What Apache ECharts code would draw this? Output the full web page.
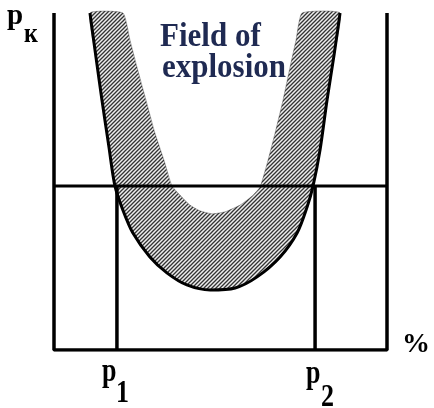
<!DOCTYPE html>
<html>
<head>
<meta charset="utf-8">
<script src="https://cdn.jsdelivr.net/npm/echarts@6/dist/echarts.min.js"></script>
<style>
html,body{margin:0;padding:0;background:#fff;}
#chart{width:434px;height:408px;}
</style>
</head>
<body>
<div id="chart"></div>
<script>
// Outer boundary of the explosion field (concentration %, pressure) — normalized 0..100
const outerCurve = [
  [10.8,100],[12.6,86.9],[14.4,74.2],[16.5,60.2],[18.3,48.7],[20.7,41.5],[23.7,34.7],
  [28.8,27.6],[33.9,22.9],[39.9,19.3],[46.9,17.8],[54.4,18.4],[61.0,21.7],[67.9,27.6],
  [73.0,34.7],[76.0,42.4],[77.8,48.7],[79.9,59.4],[82.0,74.2],[84.1,87.5],[85.9,100]
];
// Inner boundary of the hatched band
const innerCurve = [
  [20.7,100],[22.8,92.0],[24.9,84.0],[27.6,74.2],[30.3,64.4],[33.0,56.4],[35.4,48.7],
  [37.8,46.0],[40.8,43.0],[43.8,41.3],[47.5,40.4],[51.4,41.0],[55.9,43.0],[59.5,45.7],
  [61.9,48.4],[64.3,56.4],[66.4,64.4],[68.8,74.2],[70.9,84.0],[72.7,92.0],[74.5,100]
];
// Frame (left, bottom, right axes)
const frameLine = [[0,100],[0,0],[100,0],[100,100]];
// Critical pressure level pK
const pK = 48.7;
// Limits p1 and p2
const p1 = 18.9;
const p2 = 78.4;
const labels = {pk:'p', pkSub:'к', p1:'p', p1Sub:'1', p2:'p', p2Sub:'2', pct:'%', field1:'Field of', field2:'explosion'};

// hatch pattern
const pat = document.createElement('canvas');
pat.width = 4; pat.height = 4;
const c = pat.getContext('2d');
c.fillStyle = '#eeeeee'; c.fillRect(0,0,4,4);
c.strokeStyle = '#333'; c.lineWidth = 1.3;
c.beginPath();
c.moveTo(-1,5); c.lineTo(5,-1);
c.moveTo(-3,3); c.lineTo(3,-3);
c.moveTo(1,7); c.lineTo(7,1);
c.stroke();

const chart = echarts.init(document.getElementById('chart'), null, {renderer:'canvas'});
const serif = '"Liberation Serif", "DejaVu Serif", serif';
const lineSeries = (data, w) => ({
  type:'line', data, showSymbol:false, silent:true,
  lineStyle:{color:'#000', width:w}, z:5, animation:false
});
const txt = (text, x, y, size, sy, color) => ({
  type:'text', x, y, scaleY:sy, z:10,
  style:{text, font:'bold '+size+'px '+serif, fill:color||'#000', verticalAlign:'top', align:'left'}
});
chart.setOption({
  animation:false,
  grid:{left:54, right:47, top:13, bottom:58},
  xAxis:{type:'value', min:0, max:100, show:false},
  yAxis:{type:'value', min:0, max:100, show:false},
  series:[
    {
      type:'custom', data:[[0,0]], silent:true, z:2,
      renderItem:(params, api) => {
        const pts = outerCurve.map(p => api.coord(p))
          .concat(innerCurve.slice().reverse().map(p => api.coord(p)));
        return {type:'polygon', shape:{points:pts, smooth:0.15},
          style:{fill:{image:pat, repeat:'repeat'}, stroke:'rgba(60,60,60,0.5)', lineWidth:0.8}};
      }
    },
    Object.assign(lineSeries(outerCurve, 3), {smooth:0.3}),
    lineSeries(frameLine, 3.5),
    lineSeries([[0,pK],[100,pK]], 3),
    lineSeries([[p1,pK],[p1,0]], 3.5),
    lineSeries([[p2,pK],[p2,0]], 3.5)
  ],
  graphic:[
    txt(labels.pk, 7, 2, 29, 1.0),
    txt(labels.pkSub, 24, 22, 24, 1.1),
    txt(labels.p1, 102, 355, 26, 1.3),
    txt(labels.p1Sub, 116, 378, 26, 1.2),
    txt(labels.p2, 306, 357, 26, 1.3),
    txt(labels.p2Sub, 321, 382, 26, 1.2),
    txt(labels.pct, 402, 331, 28, 1.0),
    txt(labels.field1, 160, 20, 31, 1.1, '#1f2a52'),
    txt(labels.field2, 162, 51, 31, 1.1, '#1f2a52')
  ]
});
</script>
</body>
</html>
